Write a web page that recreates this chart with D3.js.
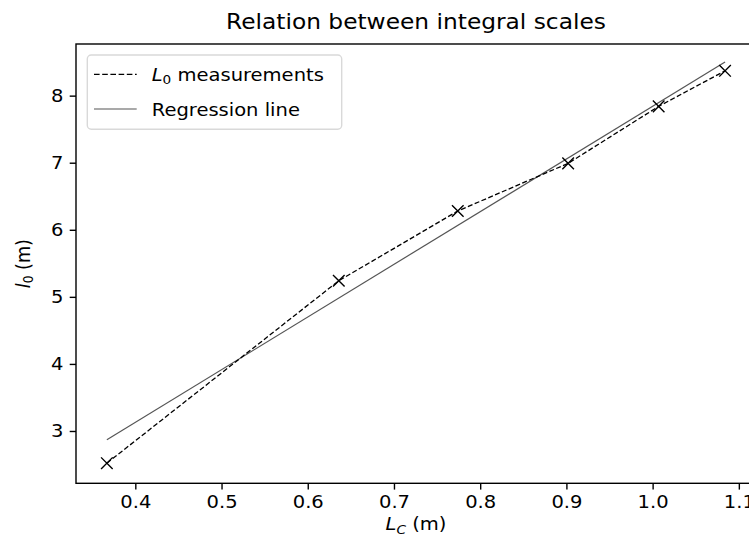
<!DOCTYPE html>
<html>
<head>
<meta charset="utf-8">
<script src="https://cdn.jsdelivr.net/npm/d3@7"></script>
<style>
  html, body { margin: 0; padding: 0; background: #fff; }
  svg { display: block; font-family: "DejaVu Sans", sans-serif; }
</style>
</head>
<body>
<svg id="chart" width="749" height="548"></svg>
<script>
// ---- data ----
const measX = [0.367, 0.636, 0.774, 0.902, 1.007, 1.084];
const measY = [2.52, 5.24, 6.28, 6.99, 7.84, 8.37];
const regX = [0.367, 1.084];
const regY = [2.87, 8.50];
const xTicks = [0.4, 0.5, 0.6, 0.7, 0.8, 0.9, 1.0, 1.1];
const yTicks = [3, 4, 5, 6, 7, 8];

const svg = d3.select("#chart");
const L = 76, T = 44, R = 756, B = 483.3;
const S = 1.11;      // horizontal text stretch seen in the reference
const fs = 17.6;     // base font size
const sub = 12.3;    // subscript size

const x = d3.scaleLinear().domain([0.3312, 1.1199]).range([L, R]);
const y = d3.scaleLinear().domain([2.22, 8.77]).range([B, T]);

function stretchTicks(g) {
  g.selectAll(".tick text").each(function () {
    const t = d3.select(this);
    const tx = +t.attr("x") || 0, ty = +t.attr("y") || 0;
    t.attr("x", 0).attr("y", 0).attr("transform", `translate(${tx},${ty}) scale(${S},1)`);
  });
}

// axes
const xAxis = d3.axisBottom(x).tickValues(xTicks).tickFormat(d3.format(".1f")).tickSize(6.3).tickPadding(6.3);
const yAxis = d3.axisLeft(y).tickValues(yTicks).tickFormat(d3.format("d")).tickSize(6.3).tickPadding(6.3);

const gx = svg.append("g").attr("transform", `translate(0,${B})`).call(xAxis);
const gy = svg.append("g").attr("transform", `translate(${L},0)`).call(yAxis);
[gx, gy].forEach(g => {
  g.select(".domain").remove();
  g.selectAll(".tick line").attr("stroke", "#000").attr("stroke-width", 1.4);
  g.selectAll(".tick text").attr("fill", "#000").style("font-size", fs + "px").style("font-family", "DejaVu Sans");
  stretchTicks(g);
});

// spines
svg.append("rect").attr("x", L).attr("y", T).attr("width", R - L).attr("height", B - T)
  .attr("fill", "none").attr("stroke", "#000").attr("stroke-width", 1.4);

// clip
svg.append("clipPath").attr("id", "clip").append("rect")
  .attr("x", L).attr("y", T).attr("width", R - L).attr("height", B - T);
const plot = svg.append("g").attr("clip-path", "url(#clip)");

const line = d3.line().x(d => x(d[0])).y(d => y(d[1]));
const meas = measX.map((v, i) => [v, measY[i]]);
const reg = regX.map((v, i) => [v, regY[i]]);

plot.append("path").datum(reg).attr("d", line)
  .attr("fill", "none").attr("stroke", "#555").attr("stroke-width", 1.2);
plot.append("path").datum(meas).attr("d", line)
  .attr("fill", "none").attr("stroke", "#000").attr("stroke-width", 1.3)
  .attr("stroke-dasharray", "5,2.4");

const ms = 5.8;
plot.selectAll("path.mk").data(meas).enter().append("path")
  .attr("class", "mk")
  .attr("d", d => {
    const cx = x(d[0]), cy = y(d[1]);
    return `M${cx - ms},${cy - ms}L${cx + ms},${cy + ms}M${cx - ms},${cy + ms}L${cx + ms},${cy - ms}`;
  })
  .attr("stroke", "#000").attr("stroke-width", 1.4).attr("fill", "none");

// title
svg.append("text").attr("transform", `translate(${(L + R) / 2},29) scale(${S},1)`)
  .attr("text-anchor", "middle").style("font-size", "21px").attr("fill", "#000")
  .text("Relation between integral scales");

// x label
const xl = svg.append("text").attr("transform", `translate(${(L + R) / 2},530) scale(${S},1)`)
  .attr("text-anchor", "middle").style("font-size", fs + "px").attr("fill", "#000");
xl.append("tspan").style("font-style", "italic").text("L");
xl.append("tspan").style("font-style", "italic").style("font-size", sub + "px").attr("dy", 3.5).text("C");
xl.append("tspan").attr("dy", -3.5).text(" (m)");

// y label
const yl = svg.append("text").attr("transform", `translate(29.5,${(T + B) / 2}) scale(${S},1) rotate(-90)`)
  .attr("text-anchor", "middle").style("font-size", fs + "px").attr("fill", "#000");
yl.append("tspan").style("font-style", "italic").text("l");
yl.append("tspan").style("font-size", sub + "px").attr("dy", 3.5).text("0");
yl.append("tspan").attr("dy", -3.5).text(" (m)");

// legend
const lg = svg.append("g");
lg.append("rect").attr("x", 87.3).attr("y", 55).attr("width", 254.4).attr("height", 74.3)
  .attr("rx", 4).attr("fill", "#fff").attr("fill-opacity", 0.8)
  .attr("stroke", "#d9d9d9").attr("stroke-width", 1.4);
const entries = [
  { y: 74.3, dash: "5.6,2.6", color: "#000", w: 1.3, label: "meas" },
  { y: 109, dash: null, color: "#555", w: 1.2, label: "Regression line" }
];
entries.forEach(e => {
  const ln = lg.append("line").attr("x1", 94).attr("x2", 136.7).attr("y1", e.y).attr("y2", e.y)
    .attr("stroke", e.color).attr("stroke-width", e.w);
  if (e.dash) ln.attr("stroke-dasharray", e.dash);
  const t = lg.append("text").attr("transform", `translate(151.7,${e.y + 6.5}) scale(${S},1)`)
    .style("font-size", fs + "px").attr("fill", "#000");
  if (e.label === "meas") {
    t.append("tspan").style("font-style", "italic").text("L");
    t.append("tspan").style("font-size", sub + "px").attr("dy", 3.5).text("0");
    t.append("tspan").attr("dy", -3.5).text(" measurements");
  } else {
    t.text(e.label);
  }
});
</script>
</body>
</html>
